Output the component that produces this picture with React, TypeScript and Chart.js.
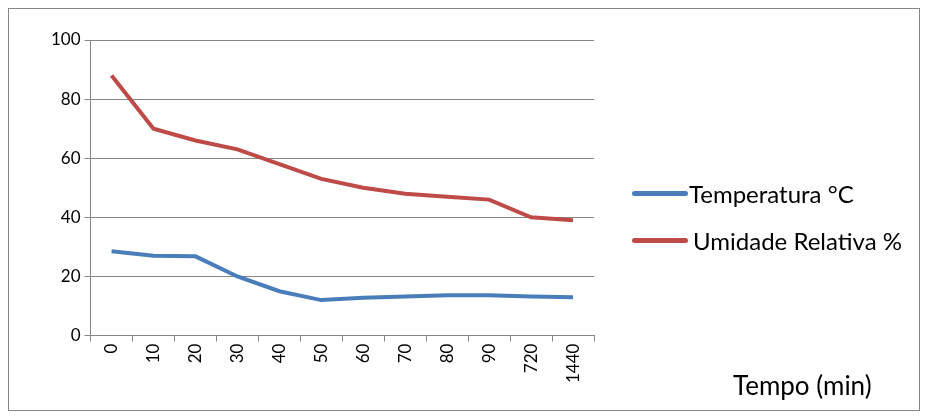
import { useEffect, useRef } from 'react';
import { Chart, registerables } from 'chart.js';

Chart.register(...registerables);

const categories = ['0', '10', '20', '30', '40', '50', '60', '70', '80', '90', '720', '1440'];
const temperatura = [28.5, 27, 26.8, 20, 15, 12, 12.8, 13.2, 13.6, 13.6, 13.2, 13];
const umidade = [88, 70, 66, 63, 58, 53, 50, 48, 47, 46, 40, 39];

const BLUE = '#4a7ebb';
const RED = '#be4b48';
const FONT = 'Lato, "Open Sans", sans-serif';

export default function App() {
  const canvasRef = useRef<HTMLCanvasElement | null>(null);

  useEffect(() => {
    if (!canvasRef.current) return;
    const chart = new Chart(canvasRef.current, {
      type: 'line',
      data: {
        labels: categories,
        datasets: [
          { label: 'Temperatura °C', data: temperatura, borderColor: BLUE, borderWidth: 4, pointRadius: 0, tension: 0 },
          { label: 'Umidade Relativa %', data: umidade, borderColor: RED, borderWidth: 4, pointRadius: 0, tension: 0 },
        ],
      },
      options: {
        responsive: false,
        animation: false,
        layout: { padding: { left: 38, top: 31, right: 325, bottom: 25 } },
        plugins: { legend: { display: false }, tooltip: { enabled: false } },
        scales: {
          x: {
            offset: true,
            grid: { offset: true, drawOnChartArea: false, drawTicks: true, tickLength: 6, color: '#868686' },
            border: { color: '#868686' },
            ticks: { color: '#000', font: { family: FONT, size: 17 }, maxRotation: 90, minRotation: 90, padding: 2 },
          },
          y: {
            min: 0,
            max: 100,
            grid: { color: '#868686', tickLength: 6 },
            border: { color: '#868686' },
            ticks: { stepSize: 20, color: '#000', font: { family: FONT, size: 17 }, padding: 4 },
          },
        },
      },
    });
    return () => chart.destroy();
  }, []);

  const legendRow = (color: string, text: string, top: number, gap: number) => (
    <div style={{ position: 'absolute', left: 623, top, height: 30, display: 'flex', alignItems: 'center', fontFamily: FONT, fontSize: 24 }}>
      <div style={{ width: 56, height: 5, borderRadius: 3, background: color, marginRight: gap }} />
      <span>{text}</span>
    </div>
  );

  return (
    <div style={{ position: 'relative', width: 910, height: 401, border: '1px solid #868686' }}>
      <canvas ref={canvasRef} width={910} height={401} />
      {legendRow(BLUE, 'Temperatura °C', 169, 1)}
      {legendRow(RED, 'Umidade Relativa %', 216, 5)}
      <div style={{ position: 'absolute', left: 724, top: 360, fontFamily: FONT, fontSize: 26 }}>Tempo (min)</div>
    </div>
  );
}
